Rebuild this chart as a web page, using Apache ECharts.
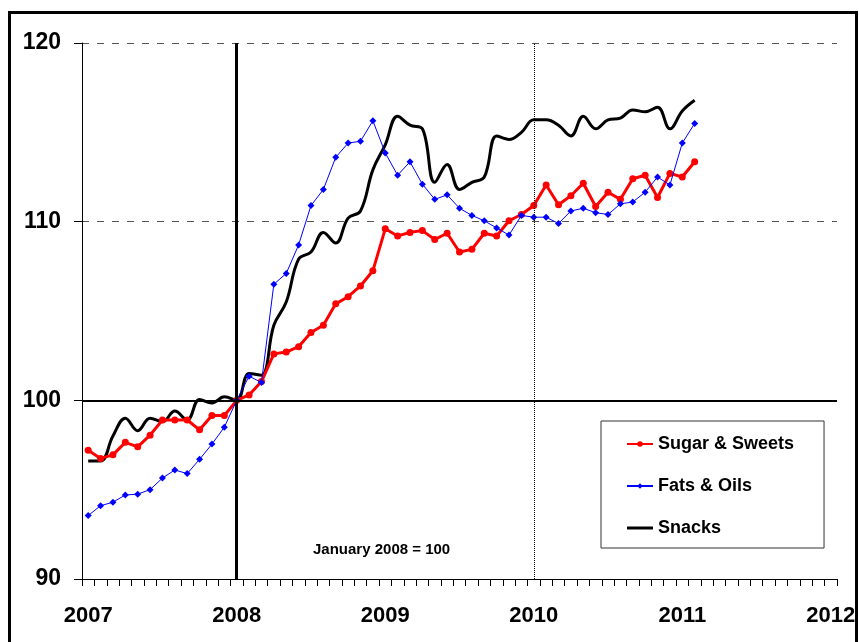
<!DOCTYPE html>
<html>
<head>
<meta charset="utf-8">
<script src="https://cdn.jsdelivr.net/npm/echarts@6/dist/echarts.min.js"></script>
<style>
  html, body { margin: 0; padding: 0; background: #fff; }
  #chart { width: 859px; height: 642px; }
</style>
</head>
<body>
<div id="chart"></div>
<script>
const years = ["2007", "2008", "2009", "2010", "2011", "2012"];
const months = ["01", "02", "03", "04", "05", "06", "07", "08", "09", "10", "11", "12"];

// Jan 2007 .. Feb 2011, monthly index (January 2008 = 100)
const sugarSweets = [
  97.2, 96.75, 96.95, 97.65, 97.4, 98.05, 98.9, 98.9, 98.9, 98.35, 99.15, 99.15,
  100, 100.3, 101.05, 102.6, 102.7, 103.0, 103.8, 104.2, 105.4, 105.8, 106.4, 107.25,
  109.6, 109.2, 109.4, 109.5, 109.0, 109.35, 108.3, 108.45, 109.35, 109.2, 110.05, 110.4,
  110.9, 112.05, 110.95, 111.45, 112.15, 110.85, 111.65, 111.25, 112.4, 112.6, 111.35, 112.7,
  112.5, 113.35
];
const fatsOils = [
  93.55, 94.1, 94.3, 94.7, 94.75, 95.0, 95.65, 96.1, 95.9, 96.7, 97.55, 98.5,
  100, 101.35, 101.0, 106.5, 107.1, 108.7, 110.9, 111.8, 113.6, 114.4, 114.5, 115.65,
  113.85, 112.6, 113.35, 112.1, 111.25, 111.5, 110.75, 110.35, 110.05, 109.65, 109.25, 110.35,
  110.25, 110.25, 109.9, 110.6, 110.75, 110.5, 110.4, 111.0, 111.1, 111.65, 112.5, 112.05,
  114.4, 115.5
];
const snacks = [
  96.6, 96.6, 98.0, 99.0, 98.3, 99.0, 98.8, 99.4, 98.9, 100.05, 99.85, 100.2,
  100, 101.5, 101.4, 104.2, 105.5, 107.9, 108.3, 109.4, 108.8, 110.2, 110.6, 112.9,
  114.3, 115.9, 115.4, 115.2, 112.2, 113.2, 111.8, 112.2, 112.5, 114.8, 114.6, 115.0,
  115.7, 115.7, 115.4, 114.8, 115.9, 115.2, 115.7, 115.8, 116.25, 116.15, 116.4, 115.2,
  116.2, 116.8
];
const yTicks = { min: 90, max: 120, step: 10 };

// month categories Jan 2007 .. Jan 2012
const categories = [];
years.forEach((y, i) => {
  if (i < years.length - 1) months.forEach((m) => categories.push(y + "-" + m));
  else categories.push(y + "-01");
});

const FONT = "Liberation Sans, Arial, sans-serif";

let chartDom = document.getElementById("chart");
let myChart = echarts.init(chartDom);
let option = {
  animation: false,
  backgroundColor: "#fff",
  textStyle: { fontFamily: FONT },
  grid: { left: 82, right: 22, top: 43, bottom: 63 },
  graphic: [
    {
      type: "rect",
      shape: { x: 9.5, y: 12.5, width: 847, height: 700 },
      style: { fill: "none", stroke: "#000", lineWidth: 3 },
      silent: true,
    },
    {
      type: "text",
      left: 313,
      top: 542,
      style: {
        text: "January 2008 = 100",
        font: "bold 15px " + FONT,
        fill: "#000",
      },
    },
  ],
  legend: {
    orient: "vertical",
    left: 601,
    top: 421,
    padding: [13, 30, 10, 25],
    itemGap: 22,
    itemWidth: 26,
    itemHeight: 7,
    borderColor: "#333",
    borderWidth: 1,
    textStyle: {
      fontFamily: FONT,
      fontSize: 18,
      fontWeight: "bold",
      color: "#000",
      lineHeight: 20,
    },
    data: [
      "Sugar & Sweets",
      "Fats & Oils",
      { name: "Snacks", icon: "path://M0,0 L26,0 L26,3 L0,3 Z" },
    ],
  },
  xAxis: {
    type: "category",
    data: categories,
    boundaryGap: true,
    axisLine: { lineStyle: { color: "#000", width: 1 } },
    axisTick: {
      show: true,
      interval: 0,
      length: 7,
      lineStyle: { color: "#000", width: 1 },
    },
    axisLabel: {
      interval: 11,
      margin: 26,
      fontFamily: FONT,
      fontSize: 22,
      fontWeight: "bold",
      color: "#000",
      formatter: (v) => v.slice(0, 4),
    },
    splitLine: { show: false },
  },
  yAxis: {
    type: "value",
    min: yTicks.min,
    max: yTicks.max,
    interval: yTicks.step,
    axisLine: { show: true, lineStyle: { color: "#000", width: 1 } },
    axisTick: { show: true, length: 8, lineStyle: { color: "#000" } },
    axisLabel: {
      margin: 21,
      fontFamily: FONT,
      fontSize: 23,
      fontWeight: "bold",
      color: "#000",
    },
    splitLine: {
      show: true,
      lineStyle: { color: "#555", width: 1, type: [7, 8] },
    },
  },
  series: [
    {
      name: "Sugar & Sweets",
      type: "line",
      data: sugarSweets,
      symbol: "circle",
      symbolSize: 7,
      lineStyle: { color: "#ff0000", width: 3 },
      itemStyle: { color: "#ff0000" },
      z: 3,
    },
    {
      name: "Fats & Oils",
      type: "line",
      data: fatsOils,
      symbol: "diamond",
      symbolSize: 7,
      lineStyle: { color: "#0000ff", width: 1 },
      itemStyle: { color: "#0000ff" },
      z: 4,
    },
    {
      name: "Snacks",
      type: "line",
      data: snacks,
      symbol: "none",
      smooth: 0.4,
      lineStyle: { color: "#000", width: 3 },
      itemStyle: { color: "#000" },
      z: 2,
      markLine: {
        silent: true,
        symbol: "none",
        label: { show: false },
        data: [
          { yAxis: 100, lineStyle: { color: "#000", width: 2, type: "solid" } },
          { xAxis: "2008-01", lineStyle: { color: "#000", width: 3, type: "solid" } },
          { xAxis: "2010-01", lineStyle: { color: "#000", width: 1, type: "dotted" } },
        ],
      },
    },
  ],
};

option && myChart.setOption(option);
</script>
</body>
</html>
